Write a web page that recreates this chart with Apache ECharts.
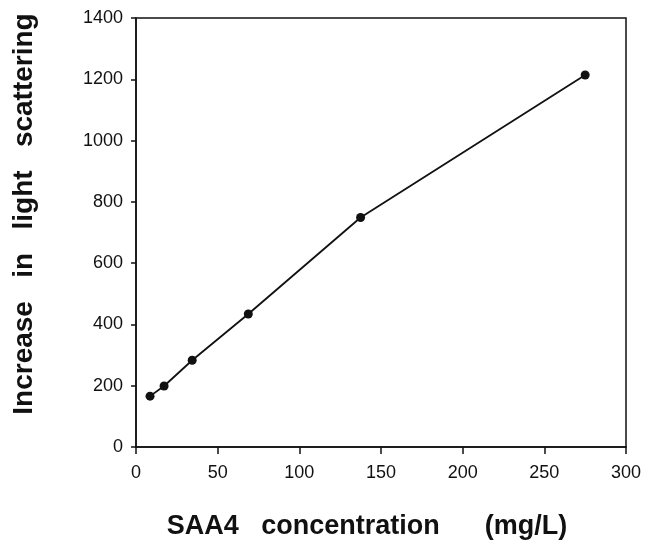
<!DOCTYPE html>
<html>
<head>
<meta charset="utf-8">
<script src="https://cdn.jsdelivr.net/npm/echarts@6/dist/echarts.min.js"></script>
<style>
html,body{margin:0;padding:0;background:#fff;}
#chart{width:649px;height:540px;}
</style>
</head>
<body>
<div id="chart"></div>
<script>
const concentration = [8.6, 17.2, 34.4, 68.75, 137.5, 275];
const scattering = [166, 199, 283, 434, 749, 1214];
const xTitle = 'SAA4   concentration      (mg/L)';
const yTitle = 'Increase   in   light   scattering';

const chart = echarts.init(document.getElementById('chart'), null, {renderer: 'canvas'});
const ink = '#111';
const tickFont = {color: ink, fontSize: 18, fontFamily: 'Liberation Sans, Arial, sans-serif', formatter: v => String(v)};
chart.setOption({
  animation: false,
  backgroundColor: '#fff',
  grid: {left: 136, right: 23, top: 18, bottom: 93, show: true, borderColor: ink, borderWidth: 1.5, backgroundColor: 'transparent'},
  xAxis: {
    type: 'value', min: 0, max: 300, interval: 50,
    axisLine: {show: true, lineStyle: {color: ink, width: 1.5}},
    axisTick: {show: true, inside: false, length: 7, lineStyle: {color: ink, width: 1.5}},
    axisLabel: Object.assign({margin: 17}, tickFont),
    splitLine: {show: false}
  },
  yAxis: {
    type: 'value', min: 0, max: 1400, interval: 200,
    axisLine: {show: true, lineStyle: {color: ink, width: 1.5}},
    axisTick: {show: true, inside: false, length: 5, lineStyle: {color: ink, width: 1.5}},
    axisLabel: Object.assign({margin: 13}, tickFont),
    splitLine: {show: false}
  },
  graphic: [
    {type: 'text', x: 367, y: 527, style: {text: xTitle, fill: ink, font: 'bold 27px "Liberation Sans", Arial, sans-serif', textAlign: 'center', textVerticalAlign: 'middle'}},
    {type: 'text', x: 24, y: 214, rotation: Math.PI / 2, style: {text: yTitle, fill: ink, font: 'bold 28px "Liberation Sans", Arial, sans-serif', textAlign: 'center', textVerticalAlign: 'middle'}}
  ],
  series: [{
    type: 'line',
    data: concentration.map((c, i) => [c, scattering[i]]),
    symbol: 'circle', symbolSize: 9,
    lineStyle: {color: ink, width: 1.8},
    itemStyle: {color: ink},
    showAllSymbol: true
  }]
});
</script>
</body>
</html>
